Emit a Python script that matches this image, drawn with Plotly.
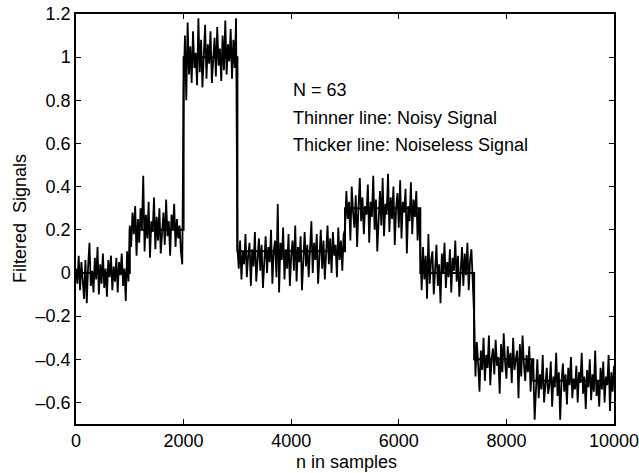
import plotly.graph_objects as go

# ---- data ----
step = 25
seg_starts = [0, 1000, 2000, 3000, 5000, 6400, 7400, 8500]
seg_A = [0.02, -0.05, 0.08, -0.08, 0.05, -0.02, -0.12, 0.06, -0.14, 0.03, 0.14, -0.06, 0.01, -0.09, 0.07, -0.03, 0.12, -0.10, 0.04, -0.05,
         0.09, -0.07, 0.02, -0.11, 0.06, -0.02, 0.08, -0.08, 0.03, -0.04, 0.07, -0.09, 0.05, -0.01, 0.09, -0.06, 0.02, -0.13, 0.10, -0.04]
seg_B = [0.22, 0.12, 0.28, 0.18, 0.31, 0.08, 0.25, 0.14, 0.30, 0.20, 0.45, 0.10, 0.27, 0.16, 0.33, 0.07, 0.24, 0.19, 0.35, 0.11,
         0.26, 0.15, 0.30, 0.09, 0.22, 0.28, 0.13, 0.34, 0.17, 0.24, 0.08, 0.27, 0.20, 0.32, 0.12, 0.25, 0.16, 0.22, 0.10, 0.04]
seg_C = [0.85, 1.10, 0.80, 1.16, 0.92, 1.05, 0.88, 1.12, 0.95, 1.02, 0.87, 1.18, 0.93, 1.08, 0.86, 1.03, 1.15, 0.90, 1.06, 0.97,
         1.12, 0.88, 1.01, 1.09, 0.91, 1.14, 0.96, 1.04, 0.89, 1.10, 0.94, 1.17, 0.92, 1.06, 0.98, 1.13, 0.90, 1.08, 0.95, 1.18]
seg_D = [0.12, 0.02, 0.15, -0.03, 0.10, 0.04, 0.18, -0.02, 0.08, 0.14, -0.06, 0.11, 0.03, 0.19, -0.04, 0.09, 0.16, 0.01, 0.13, -0.07,
         0.07, 0.17, 0.00, 0.12, 0.05, 0.20, -0.05, 0.10, 0.15, -0.02, 0.32, -0.09, 0.14, 0.06, 0.21, -0.03, 0.11, 0.02, 0.18, -0.06,
         0.08, 0.15, 0.01, 0.22, -0.04, 0.12, 0.05, 0.17, -0.08, 0.09, 0.19, 0.03, 0.13, -0.02, 0.10, 0.24, 0.00, 0.14, 0.06, 0.18,
         -0.05, 0.11, 0.20, 0.02, 0.15, -0.03, 0.12, 0.22, 0.04, 0.16, 0.00, 0.19, 0.08, 0.13, -0.02, 0.21, 0.06, 0.15, 0.01, 0.18]
seg_E = [0.20, 0.38, 0.25, 0.33, 0.15, 0.40, 0.28, 0.21, 0.36, 0.12, 0.30, 0.44, 0.24, 0.35, 0.18, 0.31, 0.27, 0.41, 0.14, 0.33,
         0.26, 0.45, 0.20, 0.34, 0.10, 0.29, 0.38, 0.22, 0.44, 0.17, 0.32, 0.27, 0.46, 0.19, 0.35, 0.25, 0.40, 0.13, 0.30, 0.37,
         0.21, 0.43, 0.16, 0.33, 0.28, 0.39, 0.09, 0.31, 0.24, 0.42, 0.18, 0.34, 0.26, 0.38, 0.15, 0.30]
seg_F = [0.05, -0.08, 0.12, -0.03, 0.08, -0.12, 0.18, -0.05, 0.06, 0.10, -0.10, 0.02, 0.13, -0.06, 0.04, -0.14, 0.09, 0.00, 0.14, -0.07,
         0.05, -0.02, 0.11, -0.09, 0.07, 0.01, 0.15, -0.04, 0.08, -0.11, 0.03, 0.12, -0.06, 0.09, -0.01, 0.14, -0.08, 0.06, 0.11, -0.03]
seg_G = [-0.20, -0.48, -0.32, -0.42, -0.55, -0.36, -0.45, -0.30, -0.50, -0.38, -0.44, -0.29, -0.52, -0.40, -0.35, -0.47, -0.31, -0.43,
         -0.39, -0.56, -0.33, -0.46, -0.28, -0.41, -0.49, -0.34, -0.44, -0.37, -0.51, -0.30, -0.45, -0.40, -0.36, -0.58, -0.33, -0.48,
         -0.29, -0.42, -0.50, -0.38, -0.46, -0.34, -0.55, -0.40]
seg_H = [-0.45, -0.68, -0.50, -0.40, -0.58, -0.47, -0.54, -0.38, -0.60, -0.49, -0.44, -0.56, -0.52, -0.41, -0.62, -0.48, -0.53, -0.37,
         -0.57, -0.46, -0.68, -0.50, -0.42, -0.55, -0.47, -0.61, -0.44, -0.52, -0.39, -0.58, -0.49, -0.54, -0.43, -0.60, -0.46, -0.51,
         -0.37, -0.56, -0.48, -0.63, -0.45, -0.53, -0.40, -0.59, -0.47, -0.55, -0.36, -0.57, -0.50, -0.62, -0.44, -0.54, -0.41, -0.60,
         -0.48, -0.52, -0.38, -0.64, -0.46, -0.55, -0.43]
segments = [seg_A, seg_B, seg_C, seg_D, seg_E, seg_F, seg_G, seg_H]

clean_breaks = [0, 1000, 2000, 3000, 5000, 6400, 7400, 8500, 10000]
clean_levels = [0.0, 0.2, 1.0, 0.1, 0.3, 0.0, -0.4, -0.5, -0.5]

x_ticks = [0, 2000, 4000, 6000, 8000, 10000]
x_ticktext = ["0", "2000", "4000", "6000", "8000", "10000"]
y_ticks = [-0.6, -0.4, -0.2, 0, 0.2, 0.4, 0.6, 0.8, 1.0, 1.2]
y_ticktext = ["\u20130.6", "\u20130.4", "\u20130.2", "0", "0.2", "0.4", "0.6", "0.8", "1", "1.2"]

notes = ["N = 63", "Thinner line: Noisy Signal", "Thicker line: Noiseless Signal"]
note_y = [0.847, 0.718, 0.594]

# ---- build noisy series ----
nx, ny = [], []
for s0, vals in zip(seg_starts, segments):
    for i, v in enumerate(vals):
        nx.append(s0 + step * i)
        ny.append(v)

FONT = "Liberation Sans, Arial, Helvetica, sans-serif"

fig = go.Figure()
fig.add_trace(go.Scatter(x=clean_breaks, y=clean_levels, mode="lines",
                         line=dict(color="black", width=2, shape="hv"), hoverinfo="skip"))
fig.add_trace(go.Scatter(x=nx, y=ny, mode="lines",
                         line=dict(color="black", width=1.8), hoverinfo="skip"))

annotations = []
for t, yv in zip(notes, note_y):
    annotations.append(dict(x=3990, y=yv, xref="x", yref="y", text=t, showarrow=False,
                            xanchor="left", yanchor="middle", font=dict(size=18, color="black", family=FONT)))
annotations.append(dict(x=(346 - 76) / 538, y=-(462 - 424) / 410, xref="paper", yref="paper",
                        text="n in samples", showarrow=False, xanchor="center", yanchor="middle",
                        font=dict(size=18, color="black", family=FONT)))
annotations.append(dict(x=(20 - 76) / 538, y=0.5, xref="paper", yref="paper",
                        text="Filtered  Signals", showarrow=False, textangle=-90,
                        xanchor="center", yanchor="middle",
                        font=dict(size=18, color="black", family=FONT)))

axis_common = dict(showgrid=False, zeroline=False, showline=True, linecolor="black", linewidth=1.5,
                   mirror="ticks", ticks="inside", ticklen=5, tickwidth=1.2, tickcolor="black",
                   tickfont=dict(size=18, color="black", family=FONT), ticklabeloverflow="allow",
                   automargin=False)

fig.update_layout(
    width=639, height=473,
    margin=dict(l=76, r=25, t=14, b=49),
    paper_bgcolor="white", plot_bgcolor="white",
    showlegend=False,
    xaxis=dict(range=[0, 10000], tickvals=x_ticks, ticktext=x_ticktext, **axis_common),
    yaxis=dict(range=[-0.7, 1.2], tickvals=y_ticks, ticktext=y_ticktext, **axis_common),
    annotations=annotations,
)

fig.write_html("out.html")
